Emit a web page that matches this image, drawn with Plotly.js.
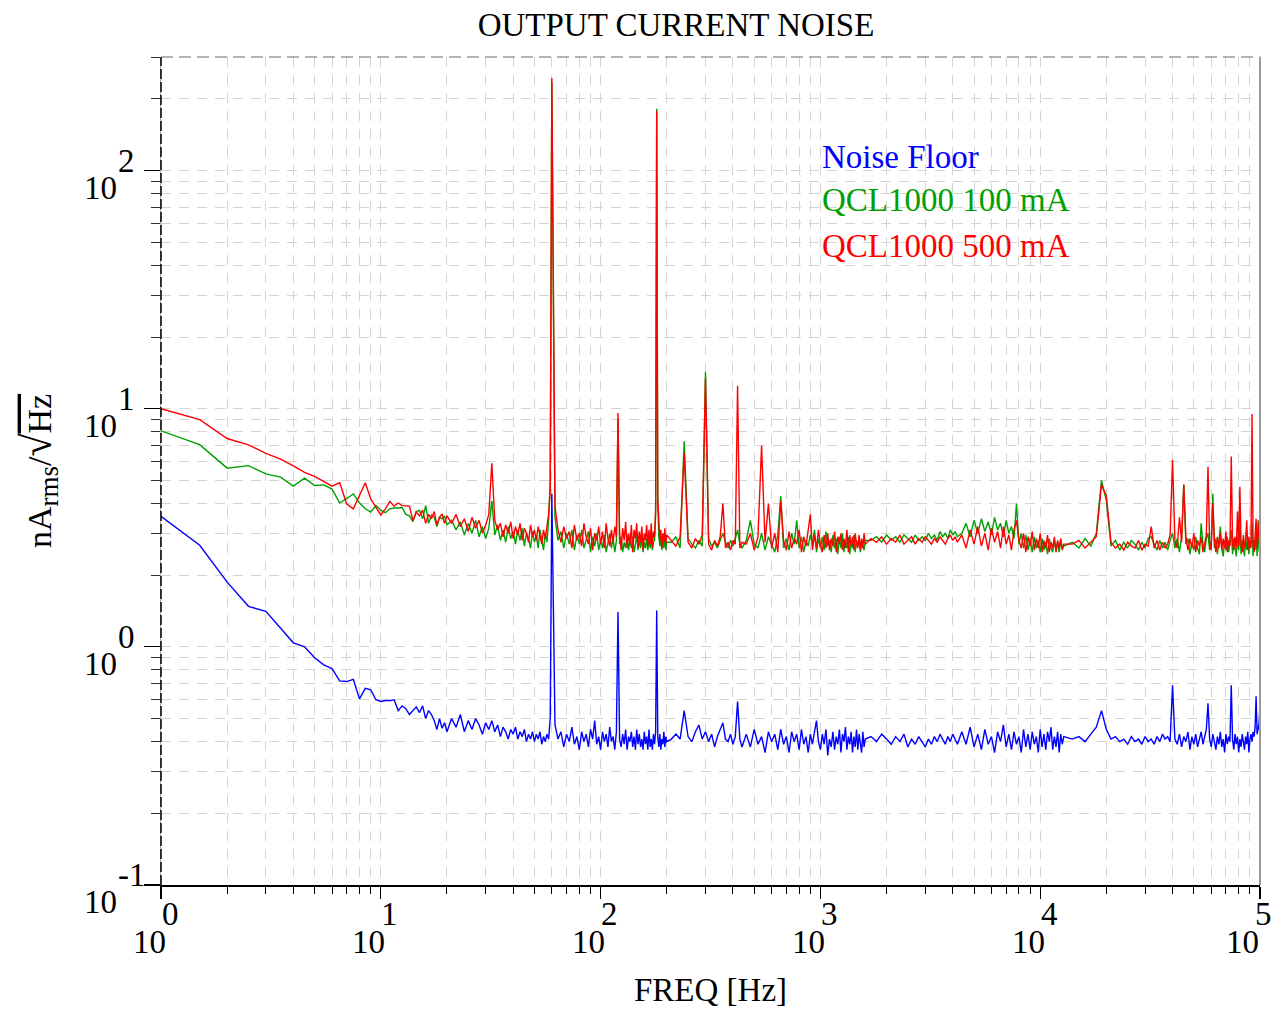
<!DOCTYPE html>
<html><head><meta charset="utf-8">
<script src="https://cdn.plot.ly/plotly-3.0.1.min.js"></script>
<style>html,body{margin:0;padding:0;background:#fff}#chart{width:1273px;height:1009px}</style>
</head><body><div id="chart"></div>
<script>
// Frequencies [Hz]
const freq = [
1,1.5,2,2.5,3,3.5,4,4.5,5,5.5,6,6.5,7,7.5,8,8.5,9,9.5,10,10.5,11,11.5,12,12.5,13,13.5,14,14.5,15,15.5,16,16.5,17,17.5,18,18.5,19,19.5,20,
21,22,23,24,25,26,27,28,29,30,31,32,33,34,35,36,37,38,39,40,41,42,43,44,45,46,47,48,49,50,51,52,53,54,55,56,57,58,59,60,
62,64,66,68,70,72,74,76,78,80,82,84,86,88,90,92,94,96,98,100,102,104,106,108,110,112,114,116,118,120,122,124,126,128,130,132,134,136,138,140,142,144,146,148,150,152,154,156,158,160,162,164,166,168,170,172,174,176,178,180,182,184,186,188,190,192,194,196,198,200,
210,220,230,240,250,260,270,280,290,300,310,320,330,340,350,360,370,380,390,400,410,420,430,440,
460,480,500,520,540,560,580,600,620,640,660,680,700,720,740,760,780,800,820,840,860,880,900,920,940,960,980,1000,1020,1040,1060,1080,1100,1120,1140,1160,1180,1200,1220,1240,1260,1280,1300,1320,1340,1360,1380,1400,1420,1440,1460,1480,1500,1520,1540,1560,1580,1600,
1700,1800,1900,2000,2100,2200,2300,2400,2500,2600,2700,2800,2900,3000,3100,3200,3300,3400,3500,3600,3700,3800,3900,4000,4100,4200,
4400,4600,4800,5000,5200,5400,5600,5800,6000,6200,6400,6600,6800,7000,7200,7400,7600,7800,8000,8200,8400,8600,8800,9000,9200,9400,9600,9800,10000,10200,10400,10600,10800,11000,11200,11400,11600,11800,12000,12200,12400,12600,12800,
14000,15000,16000,17000,18000,19000,20000,21000,22000,23000,24000,25000,26000,27000,28000,29000,30000,31000,32000,33000,34000,35000,36000,37000,
38000,39000,40000,41000,42000,43000,44000,45000,46000,47000,48000,49000,50000,51000,52000,53000,54000,55000,56000,57000,58000,59000,60000,61000,62000,63000,64000,65000,66000,67000,68000,69000,70000,71000,72000,73000,74000,75000,76000,77000,78000,79000,80000,81000,82000,83000,84000,85000,86000,87000,88000,89000,90000,91000,92000,93000,94000,95000,96000,97000,98000,99000,100000
];

// Noise Floor [nA rms / sqrt(Hz)]
const noiseFloor = [
3.53,2.67,1.87,1.48,1.41,1.2,1.04,1.0,0.9,0.84,0.81,0.72,0.715,0.73,0.605,0.67,0.66,0.6,0.59,0.595,0.595,0.6,0.54,0.565,0.55,0.52,0.54,0.56,0.53,0.565,0.5,0.54,0.52,0.49,0.45,0.5,0.455,0.48,0.44,
0.5,0.46,0.52,0.44,0.49,0.45,0.5,0.47,0.43,0.48,0.45,0.49,0.44,0.47,0.42,0.46,0.44,0.41,0.45,0.43,0.46,0.41,0.44,0.42,0.45,0.4,0.43,0.41,0.44,0.4,0.43,0.41,0.44,0.39,0.42,0.4,0.43,0.41,0.5,4.4,
0.47,0.41,0.44,0.38,0.43,0.4,0.46,0.39,0.42,0.37,0.44,0.4,0.43,0.38,0.45,0.41,0.49,0.39,0.42,0.37,0.44,0.4,0.43,0.38,0.46,0.4,0.42,0.37,0.44,1.4,0.41,0.38,0.43,0.39,0.45,0.37,0.42,0.4,0.44,0.38,0.42,0.37,0.45,0.39,0.43,0.38,0.41,0.37,0.44,0.39,0.42,0.37,0.45,0.38,0.41,0.37,0.43,0.39,0.44,1.42,0.42,0.38,0.43,0.37,0.41,0.39,0.44,0.38,0.42,0.4,
0.41,0.43,0.41,0.54,0.42,0.4,0.44,0.47,0.41,0.44,0.4,0.43,0.38,0.42,0.45,0.48,0.41,0.4,0.43,0.39,0.42,0.59,0.41,0.38,
0.43,0.38,0.45,0.39,0.42,0.36,0.44,0.4,0.43,0.37,0.45,0.39,0.42,0.36,0.44,0.4,0.43,0.37,0.45,0.39,0.42,0.36,0.43,0.39,0.44,0.49,0.4,0.37,0.43,0.39,0.45,0.35,0.41,0.38,0.44,0.37,0.42,0.39,0.45,0.36,0.43,0.4,0.46,0.37,0.42,0.39,0.44,0.36,0.42,0.38,0.45,0.37,0.43,0.4,0.36,0.44,0.38,0.41,
0.42,0.4,0.43,0.41,0.39,0.42,0.4,0.43,0.38,0.41,0.39,0.42,0.4,0.38,0.41,0.39,0.42,0.4,0.43,0.41,0.39,0.42,0.4,0.43,0.41,0.39,
0.44,0.39,0.46,0.38,0.43,0.37,0.45,0.39,0.42,0.36,0.44,0.4,0.47,0.38,0.43,0.37,0.44,0.39,0.42,0.36,0.45,0.38,0.43,0.37,0.44,0.39,0.42,0.36,0.45,0.38,0.43,0.37,0.44,0.4,0.46,0.37,0.42,0.38,0.44,0.36,0.43,0.39,0.42,
0.41,0.42,0.4,0.43,0.46,0.54,0.45,0.41,0.42,0.4,0.41,0.39,0.42,0.4,0.41,0.39,0.42,0.4,0.41,0.39,0.42,0.4,0.43,0.41,
0.42,0.4,0.69,0.41,0.39,0.43,0.38,0.42,0.4,0.44,0.37,0.42,0.39,0.43,0.38,0.41,0.44,0.39,0.42,0.45,0.58,0.41,0.38,0.43,0.4,0.37,0.42,0.39,0.44,0.38,0.41,0.36,0.43,0.39,0.42,0.4,0.69,0.41,0.37,0.43,0.39,0.42,0.36,0.41,0.38,0.43,0.4,0.37,0.42,0.39,0.44,0.36,0.41,0.43,0.4,0.44,0.42,0.46,0.62,0.43,0.45,0.48,0.56
];

// QCL1000 100 mA
const qcl100 = [
8.08,7.07,5.63,5.77,5.33,5.16,4.73,5.11,4.76,4.79,4.6,4.02,4.2,4.39,4.02,3.8,3.68,3.92,3.75,3.66,3.8,3.83,3.83,3.85,3.6,3.55,3.36,3.7,3.74,3.45,3.92,3.3,3.58,3.5,3.2,3.5,3.45,3.55,3.25,
3.4,3.1,3.35,2.95,3.3,3.0,3.4,2.9,3.2,2.85,3.15,4.1,2.95,3.25,2.8,3.1,2.75,3.2,2.85,3.05,2.7,3.1,2.8,3.15,2.65,3.0,2.85,2.6,3.05,2.75,2.95,2.6,3.1,2.8,2.55,3.0,2.75,3.4,5.0,235,
3.5,2.8,3.05,2.6,3.0,2.7,3.1,2.55,2.95,2.7,3.1,2.6,2.85,3.05,2.5,2.9,2.65,3.0,2.55,2.8,2.6,2.95,2.5,2.75,3.0,2.6,2.85,2.5,2.8,9.0,2.7,2.9,2.5,2.75,2.6,2.95,2.55,2.8,2.6,2.9,2.5,2.7,2.95,2.55,2.8,2.6,2.9,2.5,2.75,2.6,2.85,2.55,2.8,2.6,2.9,2.55,2.75,2.8,3.6,182,4.0,2.9,2.65,2.85,2.55,2.8,2.6,2.9,2.55,2.75,
2.75,2.9,2.6,7.3,2.85,2.7,2.6,2.8,2.65,14.3,2.85,2.65,2.75,2.6,2.8,3.0,2.75,2.6,2.8,2.65,2.85,3.1,2.7,2.6,
2.8,3.4,2.7,2.6,3.0,2.55,2.9,2.7,2.5,2.95,4.3,2.6,2.85,2.55,3.0,2.7,3.4,2.6,2.9,2.5,2.8,2.65,2.95,2.7,3.1,2.5,2.85,2.6,2.9,2.55,3.05,2.65,2.8,2.5,2.95,2.6,2.85,2.45,2.9,2.6,3.0,2.5,2.8,2.6,2.9,2.45,2.75,2.6,2.95,2.5,2.8,2.65,2.9,2.5,2.75,2.65,2.55,2.8,
2.8,2.9,2.75,2.95,2.8,2.9,2.75,2.95,2.85,2.75,2.95,2.8,2.9,2.8,3.0,2.85,2.95,2.8,3.05,2.9,3.0,2.85,3.1,2.95,3.05,2.9,
3.0,3.3,2.9,3.4,3.0,3.45,3.05,3.35,2.95,3.5,3.1,3.3,2.9,3.4,3.0,3.2,2.85,4.0,2.7,3.0,2.6,2.95,2.55,2.85,2.5,2.9,2.6,2.8,2.5,2.85,2.55,2.75,2.45,2.85,2.6,2.5,2.8,2.55,2.75,2.5,2.8,2.6,2.65,
2.75,2.6,2.85,2.65,3.0,5.0,4.1,2.65,2.8,2.55,2.75,2.6,2.8,2.7,2.55,2.75,2.6,2.85,2.9,2.7,2.55,2.8,2.6,2.75,
2.55,2.8,3.0,2.6,2.85,2.5,2.9,4.8,2.7,2.85,2.45,2.75,2.55,2.9,2.6,2.45,3.3,2.7,2.5,2.85,3.0,2.55,2.8,4.4,2.6,2.85,2.45,2.75,3.2,2.6,2.4,2.8,2.55,2.9,2.5,2.75,3.1,2.45,2.85,2.6,2.4,2.9,2.55,3.2,2.45,2.8,2.6,2.4,2.9,2.55,2.8,2.45,2.75,2.6,3.3,2.4,2.8,2.55,3.0,2.4,3.4,2.55,2.45
];

// QCL1000 500 mA
const qcl500 = [
10.0,9.0,7.5,7.05,6.5,6.15,5.75,5.4,5.2,4.95,4.73,4.89,3.98,3.8,4.3,4.89,4.18,3.87,3.58,3.8,4.08,3.9,4.02,3.92,3.9,3.9,3.39,3.68,3.55,3.75,3.3,3.6,3.45,3.7,3.25,3.5,3.62,3.3,3.55,
3.3,3.6,3.2,3.45,3.05,3.5,3.15,3.4,3.0,3.25,3.6,5.9,3.4,3.1,3.3,2.9,3.25,3.0,3.35,2.85,3.2,2.95,3.3,2.8,3.15,3.0,2.75,3.25,2.9,3.1,2.8,3.2,2.95,2.7,3.1,2.85,3.2,3.6,4.5,245,
3.9,3.1,2.75,3.2,2.85,3.05,2.6,3.25,2.8,3.0,2.65,3.3,2.9,2.7,3.15,2.55,3.0,2.8,3.2,2.7,3.05,2.6,3.3,2.85,2.65,3.1,2.75,3.2,2.9,9.6,3.0,2.55,3.15,2.8,3.35,2.6,3.0,2.7,3.25,2.5,3.1,2.85,3.3,2.6,3.05,2.75,3.2,2.55,3.0,2.8,3.25,2.65,3.1,2.7,3.3,2.6,3.05,2.9,3.8,178,4.2,3.2,2.8,3.1,2.6,3.0,2.75,3.15,2.7,2.95,
2.8,2.65,2.9,6.5,2.75,2.6,2.85,2.7,2.95,13.4,2.7,2.55,2.8,2.65,2.9,4.0,2.6,2.75,2.55,2.8,2.7,12.5,2.6,2.75,
2.7,3.0,2.55,2.9,7.0,2.75,4.0,2.6,3.0,2.5,4.1,2.8,2.55,3.05,2.6,2.85,2.7,3.1,2.5,2.9,2.65,3.05,3.6,2.55,2.95,2.6,3.1,2.7,2.5,2.95,2.6,3.0,2.55,2.85,2.65,3.05,2.5,2.9,2.7,3.0,2.55,2.85,2.6,3.1,2.5,2.95,2.65,2.9,2.55,3.0,2.7,2.6,2.95,2.55,2.85,2.6,3.0,2.7,
2.85,2.75,2.9,2.7,2.85,2.75,2.95,2.7,2.8,2.9,2.7,2.85,2.75,2.9,2.8,2.7,2.85,2.75,2.9,2.8,2.7,2.85,2.95,2.8,2.9,2.75,
2.95,2.6,3.1,2.7,3.2,2.65,3.0,2.55,3.15,2.75,3.05,2.6,3.2,2.7,2.95,2.55,3.1,3.4,2.8,2.6,3.0,2.5,2.9,2.65,3.05,2.55,2.85,2.6,3.0,2.5,2.8,2.6,2.95,2.5,2.75,2.6,2.9,2.5,2.8,2.6,2.85,2.55,2.7,
2.7,2.8,2.6,2.75,2.9,4.8,4.3,2.75,2.6,2.7,2.55,2.75,2.65,2.6,2.8,2.55,2.7,2.65,3.2,2.6,2.8,2.55,2.75,2.6,
2.7,2.95,6.1,2.8,2.6,3.5,2.75,4.8,2.9,2.55,2.85,2.6,3.0,2.5,2.8,2.65,2.9,2.5,2.75,2.95,5.7,2.7,2.55,4.0,2.8,2.5,2.9,2.6,3.0,2.55,2.85,2.6,3.05,2.5,2.8,2.65,6.3,2.75,2.55,2.9,2.6,3.7,2.65,4.7,2.7,2.5,2.95,2.6,2.8,3.4,2.55,2.9,2.6,2.8,9.5,2.7,2.5,2.85,3.45,2.6,2.9,3.2,3.6
];

const seriesNames = ['Noise Floor', 'QCL1000 100 mA', 'QCL1000 500 mA'];
const seriesColors = ['#0000ff', '#00a000', '#ff0000'];
const xTickExponents = ['0', '1', '2', '3', '4', '5'];
const yTickExponents = ['-1', '0', '1', '2'];
const tickBase = '10';

[noiseFloor, qcl100, qcl500].forEach((a, i) => {
  if (a.length !== freq.length) throw new Error('length mismatch ' + seriesNames[i] + ' ' + a.length + ' vs ' + freq.length);
});

const FONT = 'Liberation Serif, Times New Roman, serif';
const GRID = '#d4d4d4';
const DASH = '10px,8px';

const xMinor = [];
for (let d = 0; d < 5; d++) for (let m = 2; m <= 9; m++) xMinor.push(m * Math.pow(10, d));
const yMinor = [];
for (let d = -1; d <= 2; d++) for (let m = 2; m <= 9; m++) { const v = m * Math.pow(10, d); if (v <= 300.001) yMinor.push(v); }

const traces = [noiseFloor, qcl100, qcl500].map((vals, i) => ({
  type: 'scatter', mode: 'lines', x: freq, y: vals, name: seriesNames[i],
  line: { color: seriesColors[i], width: 1.4 }, hoverinfo: 'skip'
}));

const ann = [];
const tf = { family: FONT, size: 33, color: '#000' };
xTickExponents.forEach((e, i) => {
  const k = Number(e);
  const last = i === xTickExponents.length - 1;
  ann.push({ xref: 'x', x: k, yref: 'paper', y: 0, text: tickBase, showarrow: false, xanchor: 'center', yanchor: 'middle', borderpad: 0,
    xshift: last ? -18 : -12, yshift: -57, font: tf });
  ann.push({ xref: 'x', x: k, yref: 'paper', y: 0, text: e, showarrow: false, xanchor: last ? 'right' : 'center', yanchor: 'middle', borderpad: 0,
    xshift: last ? 13 : 9, yshift: -29, font: tf });
});
yTickExponents.forEach(e => {
  const k = Number(e);
  ann.push({ xref: 'paper', x: 0, yref: 'y', y: k, text: tickBase, showarrow: false, xanchor: 'right', yanchor: 'middle', xshift: -42, yshift: -17, font: tf });
  ann.push({ xref: 'paper', x: 0, yref: 'y', y: k, text: e, showarrow: false, xanchor: 'left', yanchor: 'middle', xshift: -45, yshift: 10, font: tf });
});
// legend as coloured text
const legY = [157, 200, 246];
seriesNames.forEach((n, i) => {
  ann.push({ xref: 'paper', x: (820 - 161) / 1099, yref: 'paper', y: (885 - legY[i]) / 828, text: n, showarrow: false,
    xanchor: 'left', yanchor: 'middle', font: { family: FONT, size: 33, color: seriesColors[i] } });
});

const layout = {
  width: 1273, height: 1009,
  margin: { l: 161, r: 13, t: 57, b: 124, pad: 0 },
  paper_bgcolor: '#ffffff', plot_bgcolor: '#ffffff',
  showlegend: false,
  font: { family: FONT, size: 33, color: '#000' },
  title: { text: 'OUTPUT CURRENT NOISE', font: { family: FONT, size: 33, color: '#000' },
    xref: 'container', x: 676 / 1273, xanchor: 'center', yref: 'container', y: 1 - 24 / 1009, yanchor: 'middle' },
  xaxis: {
    type: 'log', range: [0, 5], automargin: false, zeroline: false,
    showline: true, linecolor: '#000', linewidth: 1.5,
    tickmode: 'array', tickvals: [1, 10, 100, 1000, 10000, 100000], showticklabels: false,
    ticks: 'outside', ticklen: 12, tickwidth: 1.2, tickcolor: '#000',
    showgrid: true, gridcolor: GRID, gridwidth: 1, griddash: DASH,
    minor: { tickmode: 'array', tickvals: xMinor, ticks: 'outside', ticklen: 7, tickwidth: 1, tickcolor: '#000',
      showgrid: true, gridcolor: GRID, gridwidth: 1, griddash: DASH },
    title: { text: 'FREQ [Hz]', font: { family: FONT, size: 33, color: '#000' }, standoff: 80 }
  },
  yaxis: {
    type: 'log', range: [-1, Math.log10(300)], automargin: false, zeroline: false,
    showline: true, linecolor: '#a8a8a8', linewidth: 1,
    tickmode: 'array', tickvals: [0.1, 1, 10, 100], showticklabels: false,
    ticks: 'outside', ticklen: 16, tickwidth: 1.2, tickcolor: '#000',
    showgrid: true, gridcolor: GRID, gridwidth: 1, griddash: DASH,
    minor: { tickmode: 'array', tickvals: yMinor, ticks: 'outside', ticklen: 9, tickwidth: 1, tickcolor: '#333',
      showgrid: true, gridcolor: GRID, gridwidth: 1, griddash: DASH },
    title: { text: 'nA<sub><span style="font-size:27px">rms</span></sub>/<span style="font-size:42px">√</span><span style="text-decoration:overline">Hz</span>',
      font: { family: FONT, size: 34, color: '#000' }, standoff: 82 }
  },
  shapes: [
    { type: 'line', xref: 'paper', yref: 'paper', x0: 0, x1: 0, y0: 0, y1: 1, line: { color: '#000', width: 1.5, dash: '10px,3px' } },
    { type: 'line', xref: 'paper', yref: 'paper', x0: 0, x1: 1, y0: 1, y1: 1, line: { color: '#666', width: 1, dash: '12px,6px' } },
    { type: 'line', xref: 'paper', yref: 'paper', x0: 1, x1: 1, y0: 0, y1: 1, line: { color: '#9a9a9a', width: 2 } }
  ],
  annotations: ann
};

Plotly.newPlot('chart', traces, layout, { staticPlot: true, displayModeBar: false });
</script>
</body></html>
